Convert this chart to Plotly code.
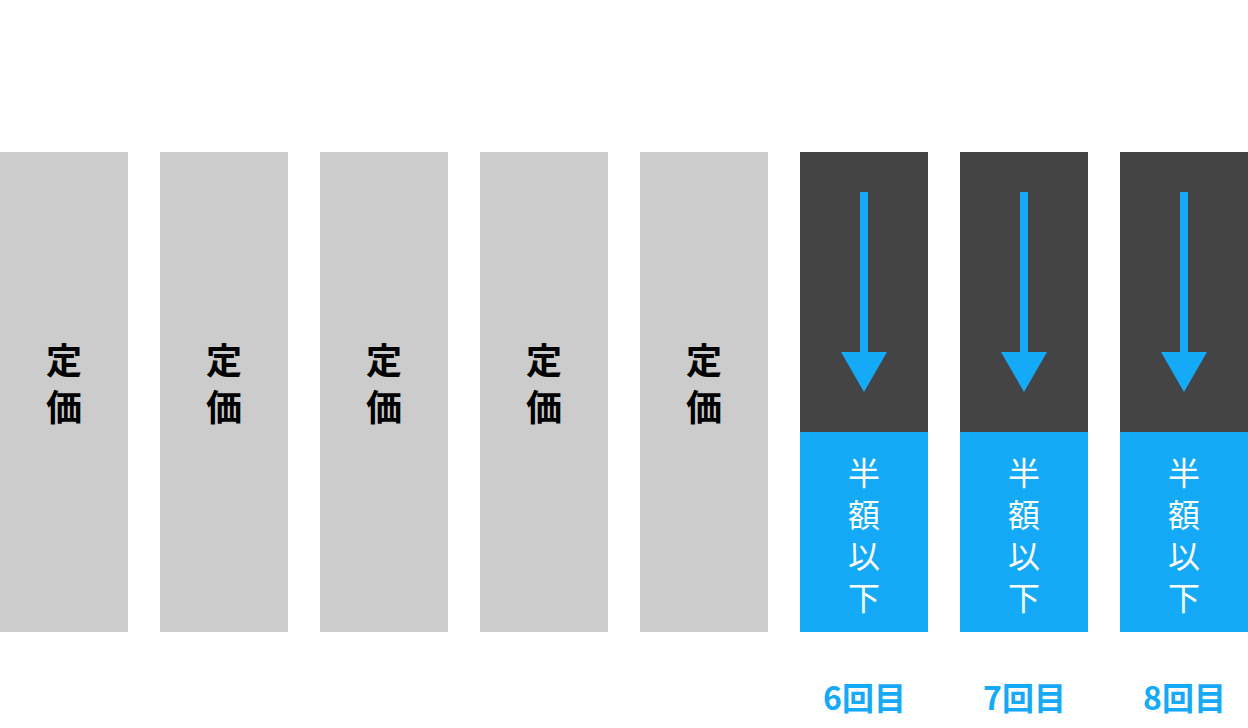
import plotly.graph_objects as go

# ---- data ----
rounds = ["1回目", "2回目", "3回目", "4回目", "5回目", "6回目", "7回目", "8回目"]
price_level = [100, 100, 100, 100, 100, 41.67, 41.67, 41.67]   # remaining price (% of list price)
full_label = "定価"
discount_label = "半額以下"

GRAY = "#cccccc"
DARK = "#444444"
BLUE = "#15aaf7"
FONT = "Noto Sans CJK JP"

xs = list(range(len(rounds)))
full_idx = [i for i, p in enumerate(price_level) if p >= 100]
disc_idx = [i for i, p in enumerate(price_level) if p < 100]

fig = go.Figure()
fig.add_trace(go.Bar(x=[xs[i] for i in full_idx], y=[price_level[i] for i in full_idx],
                     marker=dict(color=GRAY, line=dict(width=0)), width=0.8, hoverinfo="skip"))
fig.add_trace(go.Bar(x=[xs[i] for i in disc_idx], y=[price_level[i] for i in disc_idx],
                     marker=dict(color=BLUE, line=dict(width=0)), width=0.8, hoverinfo="skip"))
fig.add_trace(go.Bar(x=[xs[i] for i in disc_idx], y=[100 - price_level[i] for i in disc_idx],
                     base=[price_level[i] for i in disc_idx],
                     marker=dict(color=DARK, line=dict(width=0)), width=0.8, hoverinfo="skip"))

annotations = []
shapes = []
# vertical "定価" labels
for i in full_idx:
    annotations.append(dict(x=xs[i], y=price_level[i] * 0.5 + 2.1, text="<br>".join(full_label),
                            showarrow=False, xanchor="center", yanchor="middle", align="center",
                            font=dict(family=FONT, size=36, color="#000000", weight=700)))
# discounted bars: arrows, vertical labels, round labels
for i in disc_idx:
    p = price_level[i]
    top = 100
    seg = (top - p) * 0.143
    y_start = top - seg
    y_tip = p + seg
    shapes.append(dict(type="rect", xref="x", yref="y", x0=xs[i] - 0.025, x1=xs[i] + 0.025,
                       y0=y_tip + seg - 0.5, y1=y_start, fillcolor=BLUE, line=dict(width=0)))
    shapes.append(dict(type="path", xref="x", yref="y",
                       path=f"M {xs[i]-0.144},{y_tip+seg} L {xs[i]+0.144},{y_tip+seg} L {xs[i]},{y_tip} Z",
                       fillcolor=BLUE, line=dict(width=0)))
    annotations.append(dict(x=xs[i], y=p * 0.5 - 0.3, text="<br>".join(discount_label),
                            showarrow=False, xanchor="center", yanchor="middle", align="center",
                            font=dict(family=FONT, size=32, color="#ffffff", weight=400)))
    annotations.append(dict(x=xs[i], y=-13.4, text=rounds[i], showarrow=False,
                            xanchor="center", yanchor="middle",
                            font=dict(family=FONT, size=32, color=BLUE, weight=700)))

fig.update_layout(
    width=1248, height=728,
    margin=dict(l=0, r=0, t=0, b=0),
    paper_bgcolor="#ffffff", plot_bgcolor="#ffffff",
    showlegend=False, barmode="overlay",
    xaxis=dict(range=[-0.4, 7.4], visible=False, fixedrange=True),
    yaxis=dict(range=[-20, 131.667], visible=False, fixedrange=True),
    annotations=annotations, shapes=shapes,
)
fig.write_html("out.html", config={"displayModeBar": False},
               post_script="document.body.style.margin='0';document.body.style.overflow='hidden';")
